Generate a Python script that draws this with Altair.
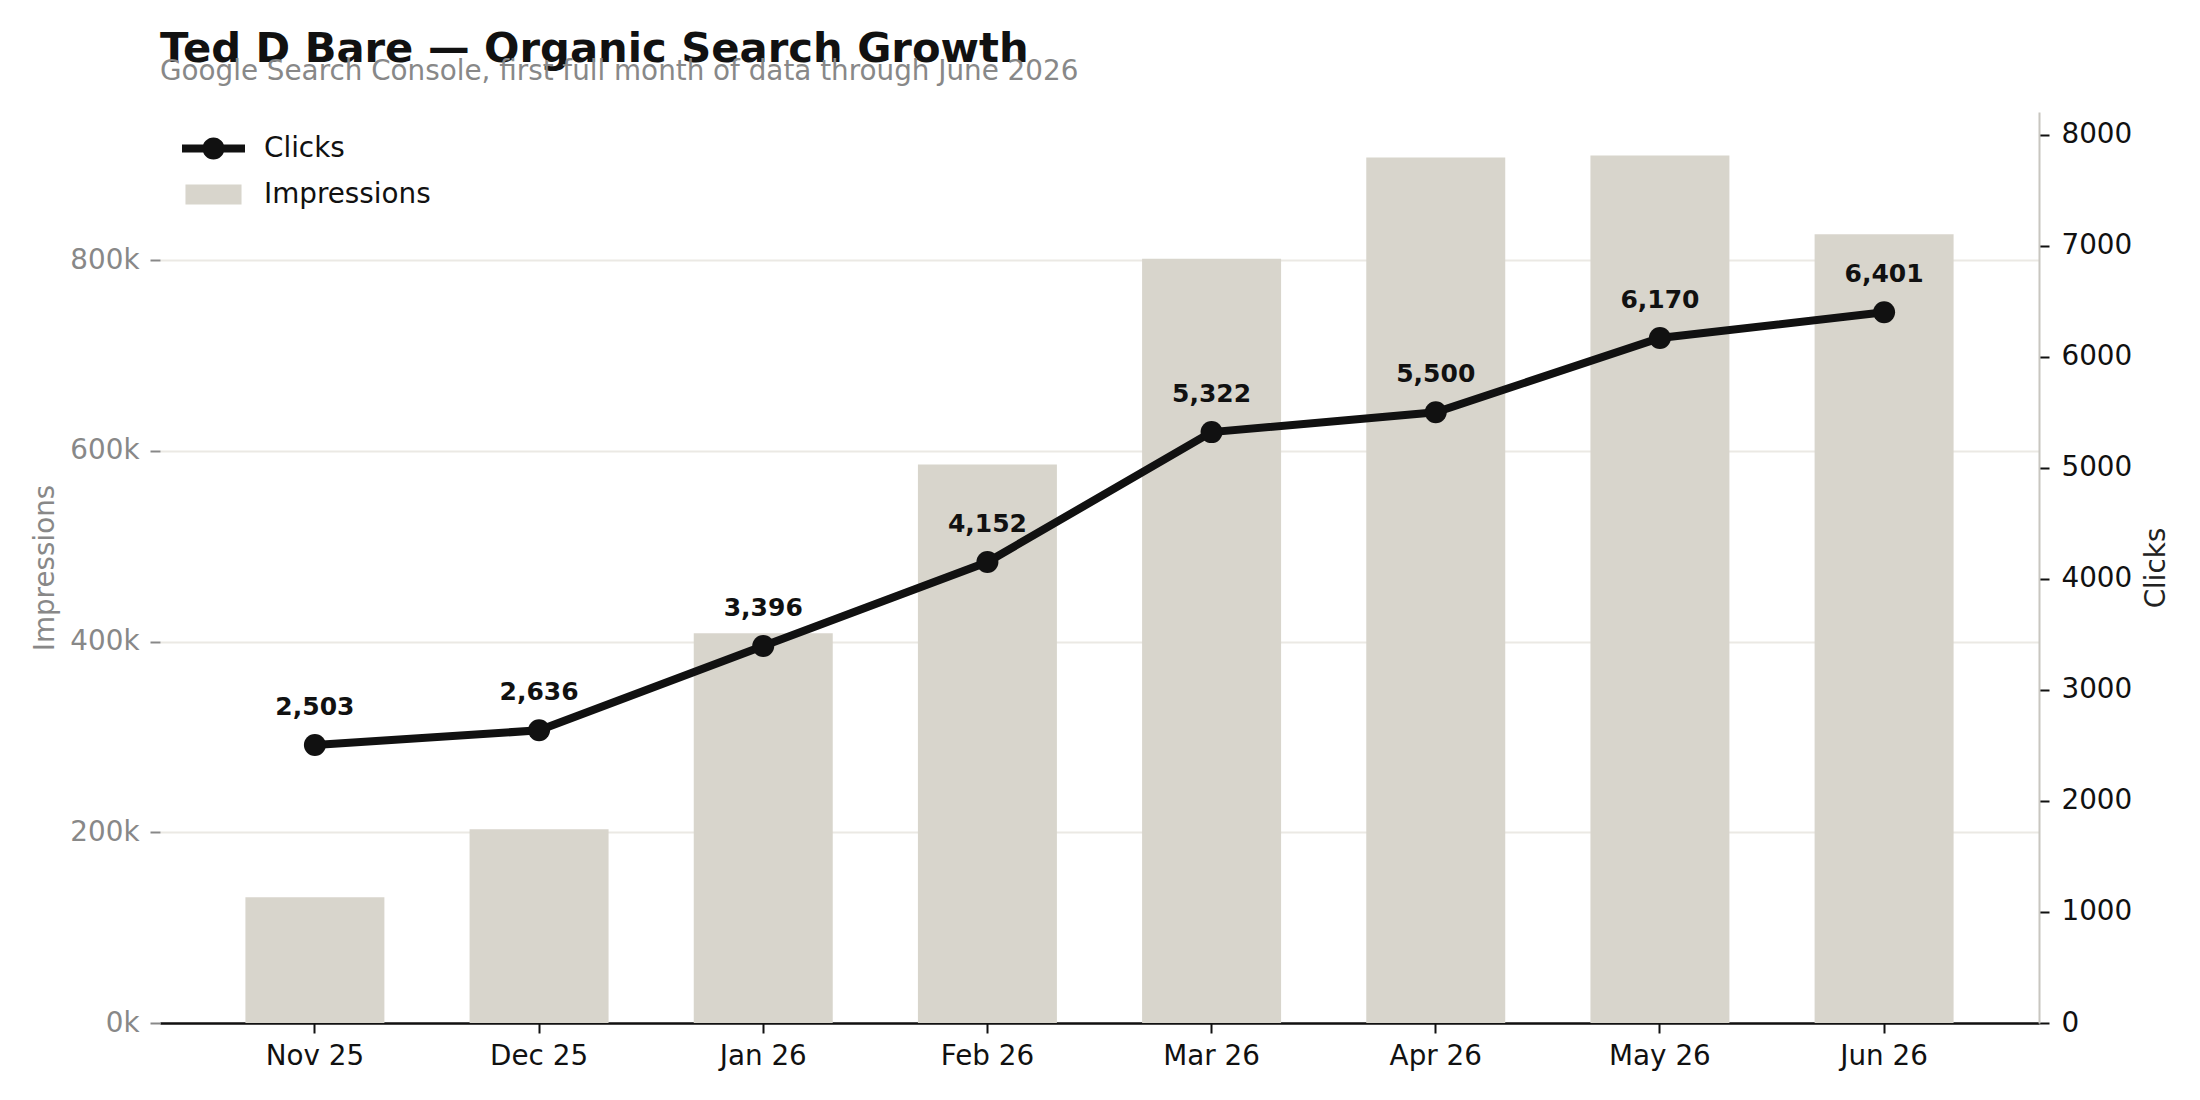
import altair as alt
import pandas as pd

months = ["Nov 25", "Dec 25", "Jan 26", "Feb 26", "Mar 26", "Apr 26", "May 26", "Jun 26"]
impressions = [131800, 203100, 408700, 585700, 801500, 907900, 910000, 827200]
clicks = [2503, 2636, 3396, 4152, 5322, 5500, 6170, 6401]

series = ["Clicks", "Impressions"]

df = pd.DataFrame({"month": months, "impressions": impressions, "clicks": clicks})

FONT = "DejaVu Sans"
INK = "#111111"
GREY = "#888888"
BAR = "#d8d5cc"

# legend swatches: a line with a dot, and a flat box
LINE_DOT = ("M-1,-0.127H1V0.127H-1Z "
            "M0.35,0A0.35,0.35 0 1 1 -0.35,0A0.35,0.35 0 1 1 0.35,0Z")
BOX = "M-0.89,-0.317H0.89V0.317H-0.89Z"

x_enc = alt.X(
    "month:N",
    sort=months,
    scale=alt.Scale(paddingInner=0.38, paddingOuter=0.381),
    axis=alt.Axis(
        title=None, labelAngle=0, labelColor=INK, labelFontSize=27.8,
        labelPadding=9, domainColor=INK, domainWidth=2.5,
        tickColor=INK, tickSize=10, tickWidth=2, grid=False,
    ),
)

bars = alt.Chart(df).mark_bar(color=BAR).encode(
    x=x_enc,
    y=alt.Y(
        "impressions:Q",
        scale=alt.Scale(domain=[0, 955500], nice=False, zero=True),
        axis=alt.Axis(
            title="Impressions", orient="left",
            values=[0, 200000, 400000, 600000, 800000],
            labelExpr="datum.value / 1000 + 'k'",
            labelColor=GREY, labelFontSize=27.8, labelPadding=11,
            titleColor=GREY, titleFontSize=27.8, titleFontWeight="normal",
            titlePadding=10, domain=False,
            tickColor=GREY, tickSize=10, tickWidth=2,
            grid=True, gridColor="#ebe9e4", gridWidth=2,
        ),
    ),
)

y_clicks = alt.Y(
    "clicks:Q",
    scale=alt.Scale(domain=[0, 8205], nice=False, zero=True),
    axis=alt.Axis(
        title="Clicks", orient="right",
        values=[0, 1000, 2000, 3000, 4000, 5000, 6000, 7000, 8000],
        format="d",
        labelColor=INK, labelFontSize=27.8, labelPadding=12,
        titleColor="#222222", titleFontSize=27.8, titleFontWeight="normal",
        titleAngle=270, titlePadding=39,
        domain=True, domainColor="#c8c6c0", domainWidth=2,
        tickColor=INK, tickSize=10, tickWidth=2, grid=False,
    ),
)
x_plain = alt.X("month:N", sort=months)

line = alt.Chart(df).mark_line(color=INK, strokeWidth=8).encode(x=x_plain, y=y_clicks)

dots = alt.Chart(df).mark_circle(color=INK, size=484, opacity=1).encode(x=x_plain, y=y_clicks)

labels = alt.Chart(df).mark_text(
    font=FONT, fontSize=25, fontWeight="bold", color=INK,
    baseline="alphabetic", dy=-30,
).encode(
    x=x_plain,
    y=y_clicks,
    text=alt.Text("clicks:Q", format=","),
)

legend_opts = dict(
    title=None, orient="none", legendX=22, legendY=5,
    symbolSize=3969, symbolStrokeWidth=0, symbolOpacity=1,
    labelFontSize=27.8, labelColor=INK, labelFont=FONT, labelLimit=400,
    labelOffset=19, rowPadding=0, padding=0,
)

# legend only: no rows survive the filter, the scales carry the two entries
legend_layer = (
    alt.Chart(df)
    .transform_calculate(series="'Clicks'")
    .transform_filter("datum.clicks < 0")
    .mark_point(filled=True, opacity=1)
    .encode(
        x=x_plain,
        y=y_clicks,
        color=alt.Color(
            "series:N",
            scale=alt.Scale(domain=series, range=[INK, BAR]),
            legend=alt.Legend(**legend_opts),
        ),
        shape=alt.Shape(
            "series:N",
            scale=alt.Scale(domain=series, range=[LINE_DOT, BOX]),
            legend=alt.Legend(**legend_opts),
        ),
    )
)

right = alt.layer(line, dots, labels, legend_layer)

chart = (
    alt.layer(bars, right)
    .resolve_scale(y="independent")
    .properties(
        width=1879,
        height=911,
        autosize=alt.AutoSizeParams(type="none"),
        padding={"left": 152, "top": 104, "right": 153, "bottom": 69},
        title=alt.Title(
            "Ted D Bare — Organic Search Growth",
            subtitle="Google Search Console, first full month of data through June 2026",
            anchor="start", frame="group",
            font=FONT, fontSize=41.7, fontWeight="bold", color=INK,
            subtitleFont=FONT, subtitleFontSize=27.8, subtitleColor=GREY,
            subtitlePadding=-12.7, offset=26,
        ),
    )
    .configure(font=FONT)
    .configure_axis(labelFont=FONT, titleFont=FONT)
    .configure_view(stroke=None)
)

chart.save("out.html", embed_options={"renderer": "svg", "actions": False})
